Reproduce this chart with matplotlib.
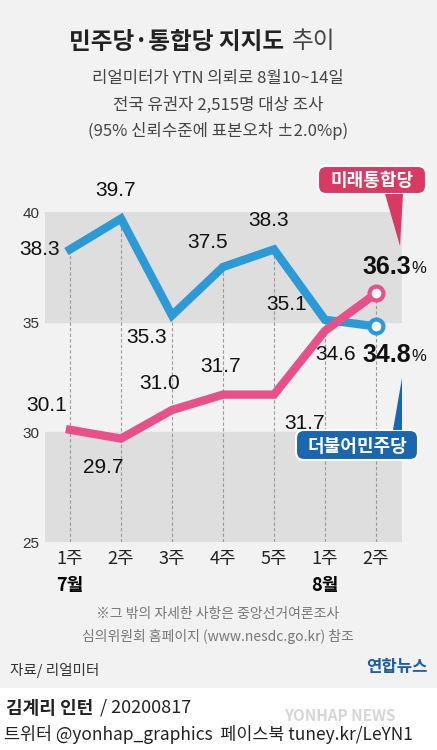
import matplotlib
matplotlib.use("Agg")
import matplotlib.pyplot as plt
from matplotlib.patches import FancyBboxPatch, Polygon

plt.rcParams["font.family"] = ["Noto Sans CJK KR", "DejaVu Sans"]

WEEKS = ["1주", "2주", "3주", "4주", "5주", "1주", "2주"]
MONTHS = {0: "7월", 5: "8월"}
DEMOCRATIC = [38.3, 39.7, 35.3, 37.5, 38.3, 35.1, 34.8]
UNITED = [30.1, 29.7, 31.0, 31.7, 31.7, 34.6, 36.3]
YTICKS = [25, 30, 35, 40]

BLUE = "#2b9ad6"
PINK = "#e8508a"
BG = "#f2f2f2"
W, H = 437, 750
NUM_FONT = ["Liberation Sans", "DejaVu Sans"]

fig = plt.figure(figsize=(W / 100, H / 100), dpi=100)
fig.patch.set_facecolor("white")


def fx(px):
    return px / W


def fy(py):
    return 1 - py / H


def ftext(px, py, s, **kw):
    fig.text(fx(px), fy(py), s, **kw)


# light grey card behind everything except footer
bg = fig.add_axes([0, fy(688), 1, 1 - fy(688)])
bg.set_facecolor(BG)
bg.set_xticks([])
bg.set_yticks([])
for s in bg.spines.values():
    s.set_visible(False)

# main plot area: x 45..402 px, y 212..542 px
ax = fig.add_axes([fx(45), fy(542), fx(402) - fx(45), fy(212) - fy(542)])
ax.set_facecolor("none")
ax.set_xlim(-0.49, 6.51)
ax.set_ylim(25, 40)
ax.axhspan(35, 40, color="#dedede", zorder=0)
ax.axhspan(25, 30, color="#dedede", zorder=0)
for s in ax.spines.values():
    s.set_visible(False)
ax.set_yticks(YTICKS)
ax.set_yticklabels([str(t) for t in YTICKS], fontsize=11, color="#333333", family=NUM_FONT)
ax.tick_params(axis="y", length=0, pad=4)
ax.tick_params(axis="x", length=0, pad=6)
ax.set_xticks(range(len(WEEKS)))
ax.set_xticklabels(WEEKS, fontsize=13, color="#222222")

xs = list(range(len(WEEKS)))
for i in xs:
    top = max(DEMOCRATIC[i], UNITED[i])
    ax.plot([i, i], [25, top], ls=(0, (3, 2)), color="#999999", lw=0.8, zorder=1)

ax.plot(xs, DEMOCRATIC, color=BLUE, lw=6, solid_joinstyle="miter", zorder=3, clip_on=False)
ax.plot(xs, UNITED, color=PINK, lw=6, solid_joinstyle="miter", zorder=4, clip_on=False)
ax.plot(xs[-1], DEMOCRATIC[-1], "o", ms=10, mfc="white", mec=BLUE, mew=3, zorder=5, clip_on=False)
ax.plot(xs[-1], UNITED[-1], "o", ms=10, mfc="white", mec=PINK, mew=3, zorder=5, clip_on=False)

num_kw = dict(fontsize=15, color="#111111", family=NUM_FONT,
              ha="center", va="center", zorder=6, clip_on=False)
dem_off = [(-0.6, 0.0), (-0.1, 1.3), (-0.5, -1.0), (-0.3, 1.1), (-0.1, 1.3), (-0.75, 0.7), None]
uni_off = [(-0.45, 1.1), (-0.35, -1.3), (-0.25, 1.2), (-0.05, 1.3), (0.6, -1.3), (0.2, -1.1), None]
for i in range(6):
    dx, dy = dem_off[i]
    ax.text(i + dx, DEMOCRATIC[i] + dy, f"{DEMOCRATIC[i]:.1f}", **num_kw)
    dx, dy = uni_off[i]
    ax.text(i + dx, UNITED[i] + dy, f"{UNITED[i]:.1f}", **num_kw)
big = dict(num_kw, fontsize=18, ha="right", fontweight="bold")
ax.text(6.68, UNITED[-1] + 1.2, f"{UNITED[-1]:.1f}", **big)
ax.text(6.68, DEMOCRATIC[-1] - 1.3, f"{DEMOCRATIC[-1]:.1f}", **big)
ax.text(6.69, UNITED[-1] + 1.15, "%", **dict(num_kw, fontsize=12, ha="left"))
ax.text(6.69, DEMOCRATIC[-1] - 1.35, "%", **dict(num_kw, fontsize=12, ha="left"))

for i, m in MONTHS.items():
    ax.text(i, 23.0, m, ha="center", va="center", fontsize=13, fontweight="bold", clip_on=False)

# party callouts
box = fig.add_axes([0, 0, 1, 1], facecolor="none")
box.set_xlim(0, W)
box.set_ylim(H, 0)
box.axis("off")
box.add_patch(FancyBboxPatch((318, 166), 108, 28, boxstyle="round,pad=0,rounding_size=8",
                             fc="#d93a63", ec="white", lw=1.5))
box.add_patch(Polygon([[385, 194], [403, 194], [400, 246]], closed=True, fc="#d93a63", ec="none"))
box.text(372, 181, "미래통합당", color="white", fontsize=13, fontweight="bold", ha="center", va="center")
box.add_patch(FancyBboxPatch((296, 430), 122, 30, boxstyle="round,pad=0,rounding_size=8",
                             fc="#1a66b0", ec="white", lw=1.5))
box.add_patch(Polygon([[393, 430], [402, 430], [402, 378]], closed=True, fc="#1a66b0", ec="none"))
box.text(357, 446, "더불어민주당", color="white", fontsize=13, fontweight="bold", ha="center", va="center")

# titles
ftext(284, 42, "민주당·통합당 지지도", fontsize=17, fontweight="bold", ha="right", va="center", color="#222222")
ftext(292, 42, "추이", fontsize=17, ha="left", va="center", color="#444444")
ftext(218, 78, "리얼미터가 YTN 의뢰로 8월10~14일", fontsize=12, ha="center", va="center", color="#444444")
ftext(218, 105, "전국 유권자 2,515명 대상 조사", fontsize=12, ha="center", va="center", color="#444444")
ftext(218, 131, "(95% 신뢰수준에 표본오차 ±2.0%p)", fontsize=12, ha="center", va="center", color="#444444")

ftext(218, 614, "※그 밖의 자세한 사항은 중앙선거여론조사", fontsize=10, ha="center", va="center",
      color="#777777", style="italic")
ftext(218, 637, "심의위원회 홈페이지 (www.nesdc.go.kr) 참조", fontsize=10, ha="center", va="center",
      color="#777777", style="italic")
ftext(10, 670, "자료/ 리얼미터", fontsize=10.5, ha="left", va="center", color="#333333", style="italic")
ftext(428, 667, "연합뉴스", fontsize=12, fontweight="bold", ha="right", va="center", color="#1a5fa8")
ftext(6, 708, "김계리 인턴", fontsize=13, fontweight="bold", ha="left", va="center", color="#222222")
ftext(100, 708, "/ 20200817", fontsize=13, ha="left", va="center", color="#222222")
ftext(4, 735, "트위터 @yonhap_graphics  페이스북 tuney.kr/LeYN1", fontsize=12.5, ha="left",
      va="center", color="#222222")
ftext(340, 716, "YONHAP NEWS", fontsize=11, fontweight="bold", style="italic", ha="center",
      va="center", color="#cccccc", alpha=0.8)

fig.savefig("out.png", dpi=100, facecolor=fig.get_facecolor())
